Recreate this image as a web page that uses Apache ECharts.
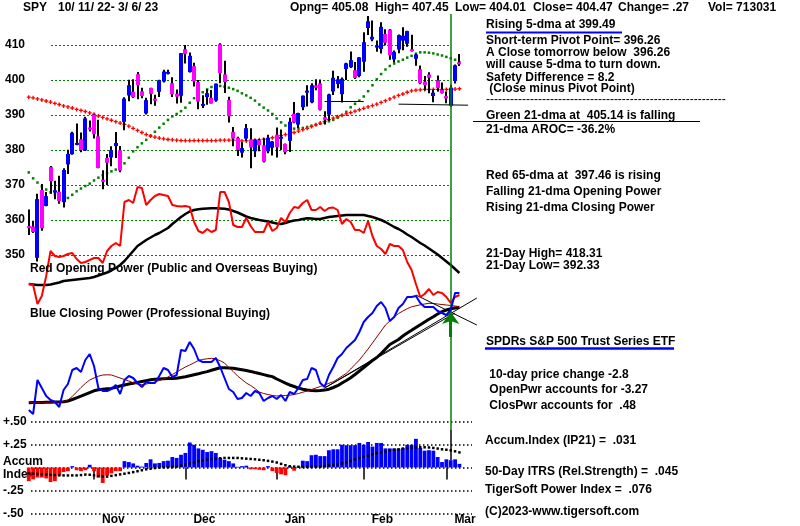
<!DOCTYPE html>
<html><head><meta charset="utf-8">
<script src="https://cdn.jsdelivr.net/npm/echarts@6/dist/echarts.min.js"></script>
<style>html,body{margin:0;padding:0;background:#fff}#c{width:800px;height:526px}</style>
</head><body><div id="c"></div>
<script>
// ---------------- DATA ----------------
const dates = ['10/11','10/12','10/13','10/14','10/17','10/18','10/19','10/20','10/21','10/24','10/25','10/26','10/27','10/28','10/31',
'11/1','11/2','11/3','11/4','11/7','11/8','11/9','11/10','11/11','11/14','11/15','11/16','11/17','11/18','11/21','11/22','11/23','11/25','11/28','11/29','11/30',
'12/1','12/2','12/5','12/6','12/7','12/8','12/9','12/12','12/13','12/14','12/15','12/16','12/19','12/20','12/21','12/22','12/23','12/27','12/28','12/29','12/30',
'1/3','1/4','1/5','1/6','1/9','1/10','1/11','1/12','1/13','1/17','1/18','1/19','1/20','1/23','1/24','1/25','1/26','1/27','1/30','1/31',
'2/1','2/2','2/3','2/6','2/7','2/8','2/9','2/10','2/13','2/14','2/15','2/16','2/17','2/21','2/22','2/23','2/24','2/27','2/28',
'3/1','3/2','3/3','3/6'];
const padDays = ['p1','p2','p3','p4'];
const monthStarts = ['11/1','12/1','1/3','2/1','3/1'];
const monthNames = ['Nov','Dec','Jan','Feb','Mar'];

const opens = [358.24,358.17,349.21,368.55,364.01,375.13,367.82,368.03,365.12,375.89,378.79,381.62,383.07,379.87,386.44,
390.14,383.90,371.47,377.71,377.87,381.11,379.93,388.05,395.59,396.66,401.65,396.78,390.46,397.74,394.64,396.63,399.55,401.83,399.09,396.05,395.49,
408.77,402.25,403.95,399.42,392.94,395.14,394.94,394.11,410.22,401.61,394.30,385.18,383.47,379.23,383.25,383.05,379.65,382.79,381.33,379.63,380.64,
384.37,383.18,381.72,382.61,390.37,387.25,392.23,396.67,393.62,398.48,399.01,389.36,390.10,396.72,398.88,395.95,403.13,403.66,402.80,401.13,
405.21,414.86,411.59,409.79,408.87,413.13,414.41,405.86,408.72,411.24,410.35,408.79,406.06,403.06,399.52,401.56,395.42,399.87,397.23,
395.41,392.68,399.71,405.08];
const highs = [363.03,359.82,367.51,370.26,367.98,375.45,371.21,372.67,374.80,380.06,385.25,387.58,385.00,389.52,388.40,
390.39,388.63,374.20,378.87,381.05,385.12,381.14,395.04,400.09,400.18,402.31,397.78,394.95,397.81,395.82,400.07,402.93,402.91,400.81,397.30,407.68,
410.00,407.86,404.93,399.99,395.64,397.36,397.12,398.99,410.49,405.50,395.25,386.58,383.82,382.23,387.41,386.21,383.06,383.15,383.39,384.35,382.58,
386.43,385.88,381.84,389.25,393.70,390.65,395.60,398.49,399.10,400.23,400.12,391.08,396.04,402.65,401.15,400.70,404.92,408.16,405.13,406.53,
413.67,418.31,416.97,411.29,416.49,414.53,414.57,408.44,412.97,415.05,414.06,412.91,407.51,404.16,401.13,402.20,397.25,401.29,399.28,
396.69,398.69,404.45,407.45];
const lows = [355.71,356.30,348.11,356.96,363.90,367.52,365.91,364.61,363.54,373.11,378.67,381.35,379.33,379.68,385.26,
383.29,374.76,368.79,370.00,375.39,377.72,373.61,385.64,393.91,394.83,394.49,394.79,390.14,393.04,392.66,395.15,399.31,401.54,395.11,393.30,393.48,
404.75,402.14,398.17,391.64,391.97,392.96,393.28,393.80,399.07,396.31,387.89,381.04,378.28,377.85,382.66,374.77,378.03,379.65,376.42,379.08,378.43,
377.83,380.00,378.76,379.41,387.67,386.27,391.38,392.42,393.34,397.06,391.28,387.26,388.38,395.72,397.64,393.56,400.03,403.44,400.28,400.77,
402.35,412.88,411.09,408.10,407.57,409.93,405.81,405.01,407.66,408.51,409.47,408.14,404.05,398.82,397.02,396.25,393.64,396.75,396.15,
393.38,392.33,399.03,404.01];
const closes = [357.74,356.56,365.97,357.63,366.82,371.13,368.50,365.41,374.29,378.87,384.92,382.02,379.98,389.02,386.21,
384.52,374.87,371.01,376.35,379.95,382.00,374.13,394.69,398.51,395.12,398.49,395.45,394.24,396.03,394.59,399.90,402.42,402.33,395.91,395.23,407.68,
407.38,406.91,399.59,393.83,393.16,396.24,393.28,398.95,401.97,399.40,389.63,383.27,380.02,380.54,386.23,380.72,382.91,381.40,376.66,383.44,382.43,
380.82,383.76,379.38,388.08,387.86,390.58,395.52,396.96,398.50,397.77,391.49,388.64,395.88,400.63,400.20,400.35,404.75,405.68,400.59,406.48,
410.80,416.78,412.35,409.83,415.19,410.65,407.09,408.04,412.83,412.64,413.98,408.28,407.26,399.09,398.54,400.66,396.38,397.73,396.26,
394.74,397.81,404.19,404.47];

// green 21-day moving average
const ma21 = [373.6,371.9,370.7,369.6,368.7,367.9,367.3,366.8,366.5,366.3,
367.2,368.2,369,369.7,370.4,371.3,372.1,372.8,373.4,373.9,
374.4,375.1,376.2,377.8,379.6,380.8,381.9,382.9,384.1,385.2,
386.4,387.5,388.6,389.6,390.3,391.1,392.1,393.5,394.8,395.8,
396.5,397.3,398,398.3,398.3,398.1,397.8,397.4,396.9,396.2,
395.6,394.9,394.1,393,392.1,391.3,390.3,389,387.9,387,
386.3,386.1,386.1,386.3,386.6,386.9,387.2,387.5,387.8,388.2,
388.6,389.2,389.9,390.9,392.2,393.2,394.1,395.3,396.8,398.5,
400.2,401.7,403,404,404.7,405.3,405.8,406.4,406.9,407.5,
407.9,407.9,407.8,407.6,407.3,407,406.6,406.2,405.8,405.1];
// red 65-day moving average
const ma65 = [395.1,394.9,394.6,394.3,394,393.7,393.3,393,392.6,392.3,
392,391.6,391.3,391,390.6,390.2,389.7,389.3,388.9,388.5,
388.1,387.7,387.3,386.8,386.2,385.6,385,384.4,384,383.7,
383.4,383.2,383,382.9,382.8,382.7,382.7,382.7,382.7,382.7,
382.7,382.7,382.7,382.7,382.8,382.8,382.8,382.8,382.7,382.6,
382.6,382.7,382.8,382.9,383.1,383.3,383.5,383.8,384.1,384.4,
384.7,385,385.4,385.8,386.2,386.7,387.2,387.7,388.2,388.7,
389.1,389.5,389.9,390.3,390.7,391.1,391.5,391.9,392.3,392.7,
393.1,393.6,394.1,394.6,395.1,395.6,396,396.5,396.9,397.1,
397.2,397.3,397.3,397.3,397.3,397.3,397.3,397.3,397.4,397.5];

// Opening Power (arbitrary units) and its 21-dma
const openPower = [26,25,6,14,34,59,54,53,54,56,
57,51,47,48,50,52,52,47,59,64,
67,64,108,110,107,123,122,105,110,114,
116,115,114,105,104,103.5,104,103,88,79,
77,81,78,80,118,118,108,85,83,83,
92,84,78,78,78,88,79,82,92,88,
97,103,102,107,110,100,100,103,99,102,
102.5,100,86,91,88,80,80,77,89,74,
64,61,56,66,64,64,60,48,40,26,
13,16,21,15,18,17,13,7,13,15];
const openPowerMA = [26,25.5,25,25,25,25.5,26.5,27.5,29,29.5,
30,30.5,31,31.5,32,33,34.5,36,37.5,39.5,
42,45,49,54,59,64,67,70,72.5,75,
77,79.5,82,86,89.5,93,96,98.5,100,100.8,
101.2,101.5,101.7,101.7,101.5,101.2,100.5,99,97.5,95.5,
93.5,92,91,90,89.3,88.5,87.5,86.5,86,87,
88.5,89.5,90,91,91.7,91.5,91,91,92,93,
93.5,94,94.5,95,95,95,95,95,94,93,
91.5,90,88,85.5,83,81,78.5,75.5,73,70,
67,64.5,61.5,58.5,55.5,52,48.5,45,41,37];
// Closing Power (arbitrary units) and its averages
const closePower = [5,1,35,27,19,15,13,8,25,31,
45,47,43,55,61,49,27,24,24,26,
30,21,35,39,37,32,28,33,32,32,
39,47,45,38,40,65,64,73,66,55,
53,53,53,57,48,37,26,23,16,17,
22,19,24,22,14,17,19,16,20,14,
23,21,27,35,36,47,45,32,28,40,
48,57,61,67,71,75,83,93,98,102,
109,113,107,94,98,107,111,118,118,119,
112,108,108,108,104,102,100,105,122,122];
const closePowerMA21 = [12.3,12.4,12.5,12.6,12.7,12.8,12.9,13,13.2,14,
15.5,17.2,18.8,20.6,22.4,24.2,25.3,25.8,26.2,26.6,
27.8,29,30,31,31.7,32.6,33.5,34.4,35.3,35.8,
36,36.2,36.4,36.6,36.7,37.5,38.3,39.2,40.3,41.3,
42.4,43.4,44.7,46,47.3,47.2,47,46.7,46,45.2,
44.4,43.6,42.5,41.5,40.4,39.3,38.4,36,34,31.8,
30,28.5,26.9,25.8,25,24.4,24.3,24.5,24.9,25.8,
27.5,29.3,32,34.5,37.2,40.5,44,47.5,51,54.5,
57.5,61.5,66,70.5,73,75.5,79,82,84.7,87.5,
90.3,93,95.7,98.3,101,103.3,105,106.2,107,107.7];
const closePowerMAfast = [12.3,12.4,12.5,12.6,12.7,12.8,12.9,13,13.2,15,
18.5,23,27.5,31.5,35,37,38.8,40,40.2,40,
38.5,37,35.5,34,32.3,30.8,30.3,31,32,33,
34.5,36,38,40.5,43,45.5,48,50,52.2,54.5,
55.6,56.2,56.7,56,54.3,52,47.5,43.5,39,35.5,
32,29.5,26.5,23,21.5,20.5,19.5,19,19.2,19.5,
19.8,20.5,21.5,22.8,24,25.5,27,28.5,30,31.7,
33.3,36,38.8,41.7,46,50.5,55,60.5,66,72,
78,84,90,94,98,101.5,104,106.3,108.2,109.2,
110.2,111,111.7,111.5,111,110.5,110,109.5,109,108.3];
// Accumulation Index (IP21) and its average
const accum = [-0.15,-0.13,-0.11,-0.11,-0.12,-0.16,-0.15,-0.09,-0.05,-0.04,
0.015,-0.03,-0.04,-0.03,0.03,-0.04,-0.11,-0.17,-0.09,-0.065,
-0.04,-0.04,0.07,0.06,0.045,0.02,0.01,0.05,0.09,0.045,
0.05,0.07,0.075,0.115,0.105,0.14,0.16,0.275,0.25,0.21,
0.195,0.17,0.18,0.16,0.105,0.085,0.07,0.045,0.008,0.015,
0.02,-0.02,-0.02,-0.025,-0.03,0.015,-0.04,-0.06,-0.075,-0.085,
0.015,-0.035,0.01,0.075,0.07,0.135,0.14,0.125,0.125,0.19,
0.2,0.2,0.25,0.245,0.245,0.245,0.27,0.25,0.28,0.23,
0.27,0.27,0.21,0.21,0.21,0.205,0.215,0.25,0.25,0.315,
0.215,0.185,0.19,0.185,0.115,0.06,0.09,0.08,0.09,0.04];
const accumMA = [-0.065,-0.068,-0.071,-0.074,-0.077,-0.08,-0.083,-0.086,-0.087,-0.087,
-0.087,-0.087,-0.083,-0.078,-0.08,-0.086,-0.094,-0.098,-0.1,-0.092,
-0.084,-0.076,-0.068,-0.06,-0.051,-0.041,-0.03,-0.02,-0.013,-0.006,
0,0.002,0.003,0.004,0.012,0.022,0.033,0.045,0.057,0.07,
0.078,0.086,0.094,0.098,0.102,0.105,0.105,0.105,0.105,0.101,
0.097,0.094,0.09,0.085,0.08,0.073,0.065,0.055,0.04,0.025,
0.014,0.01,0.008,0.006,0.006,0.006,0.008,0.01,0.016,0.022,
0.028,0.033,0.045,0.058,0.072,0.09,0.105,0.118,0.13,0.145,
0.158,0.168,0.176,0.186,0.194,0.2,0.208,0.214,0.219,0.222,
0.223,0.222,0.22,0.215,0.208,0.2,0.195,0.188,0.178,0.166];

const priceTicks = [350, 410, 10];          // min, max, step
const accumTickLabels = {'0.5':'+.50','0.25':'+.25','0':'Accum\nIndex','-0.25':'-.25','-0.5':'-.50'};
const signalDay = '3/2';
const priceTrendLines = [[['2/2',418.31],['p4',406.5]], [['1/19',393.8],['2/1',393.8]], [['2/13',393.1],['p2',392.8]]];
const powerTrendLines = [[['1/19',27],['p4',117]], [['1/19',27],['3/3',102]], [['2/17',120],['p4',90]]];

// ---------------- CHART ----------------
const FONT = '"Liberation Sans", Arial, sans-serif';
const cats = dates.concat(padDays);
const step = 4.35;
const gLeft = 26.6, gWidth = cats.length * step;

const chart = echarts.init(document.getElementById('c'), null, {renderer:'canvas'});

function catAxis(gi, extra) {
  return Object.assign({gridIndex: gi, type:'category', data: cats, boundaryGap: true, show:false}, extra || {});
}
function dotSeries(data, xi, yi, symbol, size, color, z) {
  return {type:'line', data, xAxisIndex: xi, yAxisIndex: yi, symbol, symbolSize: size, showSymbol:true,
    showAllSymbol:true, lineStyle:{opacity:0}, itemStyle:{color, borderWidth:0}, clip:false, z, silent:true,
    emphasis:{disabled:true}};
}
function lineSeries(data, xi, yi, color, width, z, extra) {
  return Object.assign({type:'line', data, xAxisIndex: xi, yAxisIndex: yi, showSymbol:false, symbol:'none',
    lineStyle:{color, width}, clip:false, z, silent:true, emphasis:{disabled:true}}, extra || {});
}
function segs(list) {
  return list.map(s => [{coord: s[0]}, {coord: s[1]}]);
}

const texts = [
  ['SPY', 23, 8], ['10/ 11/ 22- 3/ 6/ 23', 58, 8],
  ['Opng= 405.08', 290, 8], ['High= 407.45', 375, 8], ['Low= 404.01', 455, 8],
  ['Close= 404.47', 533, 8], ['Change= .27', 618, 8], ['Vol= 713031', 708, 8],
  ['Rising 5-dma at 399.49', 486, 25],
  ['Short-term Pivot Point= 396.26', 486, 41],
  ['A Close tomorrow below  396.26', 486, 53],
  ['will cause 5-dma to turn down.', 486, 64.5],
  ['Safety Difference = 8.2', 486, 77.5],
  [' (Close minus Pivot Point)', 486, 89],
  ['Green 21-dma at  405.14 is falling', 486, 115.5],
  ['21-dma AROC= -36.2%', 486, 130],
  ['Red 65-dma at  397.46 is rising', 486, 175.5],
  ['Falling 21-dma Opening Power', 486, 192],
  ['Rising 21-dma Closing Power', 486, 207.5],
  ['21-Day High= 418.31', 486, 253.5],
  ['21-Day Low= 392.33', 486, 266],
  ['SPDRs S&P 500 Trust Series ETF', 486, 341.5],
  [' 10-day price change -2.8', 486, 375],
  [' OpenPwr accounts for -3.27', 486, 390],
  [' ClosPwr accounts for  .48', 486, 406],
  ['Accum.Index (IP21) =  .031', 485, 440.5],
  ['50-Day ITRS (Rel.Strength) =  .045', 485, 471.5],
  ['TigerSoft Power Index =  .076', 485, 490],
  ['(C)2023-www.tigersoft.com', 485, 512],
  ['Red Opening Power (Public and Overseas Buying)', 30, 268.5],
  ['Blue Closing Power (Professional Buying)', 30, 314]
];
const graphics = texts.map(t => ({type:'text', x:t[1], y:t[2], z:100, silent:true,
  style:{text:t[0], font:'bold 12px ' + FONT, fill:'#000', align:'left', verticalAlign:'middle'}}));
graphics.push({type:'text', x:486, y:100, z:100, silent:true,
  style:{text:'-'.repeat(60), font:'12px ' + FONT, fill:'#000', align:'left', verticalAlign:'middle'}});
graphics.push({type:'line', z:100, silent:true, shape:{x1:486,y1:32.5,x2:622,y2:32.5}, style:{stroke:'#0000ff', lineWidth:2}});
graphics.push({type:'line', z:100, silent:true, shape:{x1:473,y1:121.5,x2:700,y2:121.5}, style:{stroke:'#000', lineWidth:1}});
graphics.push({type:'line', z:100, silent:true, shape:{x1:485,y1:348.5,x2:674,y2:348.5}, style:{stroke:'#0000ff', lineWidth:2.5}});

function renderCandle(params, api) {
  const i = api.value(0);
  const o = api.value(1), c = api.value(2), l = api.value(3), h = api.value(4);
  const pO = api.coord([i, o]), pC = api.coord([i, c]), pL = api.coord([i, l]), pH = api.coord([i, h]);
  const x = Math.round(pO[0]);
  const top = Math.min(pO[1], pC[1]);
  const bh = Math.max(2, Math.abs(pO[1] - pC[1]));
  return {type:'group', children:[
    {type:'rect', shape:{x:x-1, y:pH[1], width:2, height:pL[1]-pH[1]}, style:{fill:'#000'}},
    {type:'rect', shape:{x:x-2, y:top, width:4, height:bh}, style:{fill: c >= o ? '#0000ff' : '#ff00ff'}}
  ]};
}

const plusPath = 'path://M2,0H4V2H6V4H4V6H2V4H0V2H2Z';

const option = {
  animation:false,
  backgroundColor:'#fff',
  textStyle:{fontFamily: FONT},
  grid:[
    {left:gLeft, width:gWidth, top:45, height:210},          // 0 price
    {left:51, width:399, top:45, height:210},                // 1 price gridlines
    {left:gLeft, width:gWidth, top:160, height:260},         // 2 power
    {left:30, width:442, top:422, height:92},                // 3 accum gridlines
    {left:gLeft, width:gWidth, top:422, height:92},          // 4 accum
    {left:gLeft, width:gWidth, top:14, height:416}           // 5 overlay
  ],
  xAxis:[
    catAxis(0),
    {gridIndex:1, type:'value', min:0, max:1, show:false},
    catAxis(2),
    {gridIndex:3, type:'value', min:0, max:1, show:false},
    catAxis(4, {show:true,
      axisLine:{show:false},
      axisTick:{show:true, alignWithLabel:true, length:12, interval:(i, v) => monthStarts.indexOf(v) >= 0,
        lineStyle:{color:'#000', width:1.5}},
      axisLabel:{interval:(i, v) => monthStarts.indexOf(v) >= 0, formatter:v => monthNames[monthStarts.indexOf(v)] || '',
        align:'left', padding:[0,0,0,8], margin:1, color:'#000', fontWeight:'bold', fontSize:12, fontFamily:FONT},
      splitLine:{show:false}}),
    catAxis(5)
  ],
  yAxis:[
    {gridIndex:0, type:'value', min:priceTicks[0], max:priceTicks[1], show:false},
    {gridIndex:1, type:'value', min:priceTicks[0], max:priceTicks[1], interval:priceTicks[2],
      axisLine:{show:false}, axisTick:{show:false},
      axisLabel:{margin:26, color:'#000', fontWeight:'bold', fontSize:12, fontFamily:FONT},
      splitLine:{show:true, lineStyle:{color:'#008000', width:1, type:[2,2]}}},
    {gridIndex:2, type:'value', min:-110, max:150, show:false},
    {gridIndex:2, type:'value', min:-5, max:255, show:false},
    {gridIndex:3, type:'value', min:-0.5, max:0.5, interval:0.25,
      axisLine:{show:false}, axisTick:{show:false},
      axisLabel:{margin:28, align:'left', color:'#000', fontWeight:'bold', fontSize:12, fontFamily:FONT, lineHeight:13,
        formatter:v => accumTickLabels[String(v)] || ''},
      splitLine:{show:true, lineStyle:{color:'#000', width:1.5, type:[1.5,2.5]}}},
    {gridIndex:4, type:'value', min:-0.5, max:0.5, show:false},
    {gridIndex:5, type:'value', min:0, max:1, show:false}
  ],
  graphic: graphics,
  series:[
    // price panel
    dotSeries(ma21, 0, 0, 'rect', 2.5, '#008000', 2),
    Object.assign(dotSeries(ma65, 0, 0, plusPath, 4, '#ff0000', 2), {
      markLine:{silent:true, symbol:['none','none'], label:{show:false}, animation:false,
        lineStyle:{color:'#000', width:1, type:'solid'}, emphasis:{disabled:true}, data: segs(priceTrendLines)}}),
    {type:'custom', xAxisIndex:0, yAxisIndex:0, clip:false, z:3, silent:true,
      data: dates.map((d, i) => [i, opens[i], closes[i], lows[i], highs[i]]),
      encode:{x:0, y:[1,2,3,4]}, renderItem: renderCandle},
    // power panel
    lineSeries(openPowerMA, 2, 2, '#000', 2.5, 4),
    lineSeries(openPower, 2, 2, '#ff0000', 2, 5),
    lineSeries(closePowerMA21, 2, 3, '#000', 3, 4),
    lineSeries(closePowerMAfast, 2, 3, '#8b0000', 1, 4),
    lineSeries(closePower, 2, 3, '#0000ff', 2, 5, {
      markLine:{silent:true, symbol:['none','none'], label:{show:false}, animation:false,
        lineStyle:{color:'#000', width:1, type:'solid'}, emphasis:{disabled:true},
        data: segs(powerTrendLines).concat([[
          {coord:[signalDay, 78], symbol:'none', lineStyle:{color:'#008000', width:3, type:'solid'}},
          {coord:[signalDay, 103], symbol:'arrow', symbolSize:[13,12]}
        ]])}}),
    // accumulation panel
    {type:'bar', xAxisIndex:4, yAxisIndex:5, data: accum, barWidth:3.8, silent:true, z:2,
      itemStyle:{color: p => p.value >= 0 ? '#0000ff' : '#ff0000'},
      markLine:{silent:true, symbol:['none','none'], label:{show:false}, animation:false,
        lineStyle:{color:'#000', width:1.5, type:'solid'}, emphasis:{disabled:true},
        data:[[{coord:[signalDay, 0.413]}, {coord:[signalDay, accum[dates.indexOf(signalDay)]]}]]}},
    dotSeries(accumMA, 4, 5, 'rect', 2.5, '#000', 3),
    // overlay vertical signal line
    {type:'line', xAxisIndex:5, yAxisIndex:6, data: cats.map(() => null), silent:true, z:6,
      markLine:{silent:true, symbol:['none','none'], label:{show:false}, animation:false,
        lineStyle:{color:'#008000', width:1.5, type:'solid'}, emphasis:{disabled:true},
        data:[{xAxis: signalDay}]}}
  ]
};
chart.setOption(option);
</script>
</body></html>
